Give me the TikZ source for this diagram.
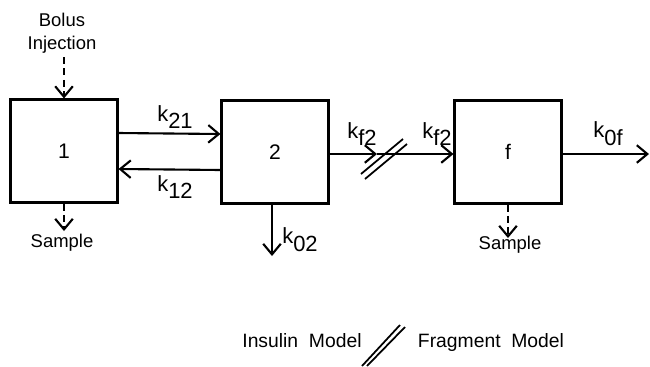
\documentclass[tikz,border=0pt]{standalone}
\usepackage{fontspec}
\setmainfont{Liberation Sans}
\usetikzlibrary{arrows.meta, positioning, calc}
\tikzset{
  comp/.style={rectangle, draw, line width=1.2pt, minimum width=2.14cm,
    minimum height=2.06cm, font=\fontsize{12}{14}\selectfont},
  flow/.style={-{Straight Barb[length=6pt, width=10pt]}, line width=1.2pt},
  dflow/.style={flow, dash pattern=on 4pt off 2.5pt},
  rate/.style={font=\fontsize{12.5}{14}\selectfont, inner sep=0pt},
  note/.style={font=\fontsize{10.5}{12}\selectfont, inner sep=0pt},
  legend/.style={font=\fontsize{11}{13}\selectfont, inner sep=0pt},
  slash/.style={line width=1pt},
}
\newcommand{\krate}[1]{k\raisebox{-4.5pt}{#1}}

\begin{document}
\begin{tikzpicture}[x=0.02cm, y=-0.02cm]
  \useasboundingbox (0,0) rectangle (650,366);

  % Compartments
  \node[comp] (c1) at (64,151) {1};
  \node[comp] (c2) at (275,152) {2};
  \node[comp] (cf) at (508,152) {f};

  % Free ends
  \coordinate (inj) at (64,57);
  \coordinate (smp1) at (64,231);
  \coordinate (smpf) at (508,238);
  \coordinate (elim) at (272,256);
  \coordinate (cut) at (377,154);
  \coordinate (out) at (649,154);

  % Texts
  \node[note] (bolus) at (62,20) {Bolus};
  \node[note] (inject) at (62,45) {Injection};
  \node[note] (samp1) at (62,243) {Sample};
  \node[note] (sampf) at (510,245) {Sample};
  \node[rate] (k21) at (175,117) {\krate{21}};
  \node[rate] (k12) at (175,187) {\krate{12}};
  \node[rate] (k02) at (300,240) {\krate{02}};
  \node[rate] (kf2a) at (362,134) {\krate{f2}};
  \node[rate] (kf2b) at (437,134) {\krate{f2}};
  \node[rate] (k0f) at (608,134) {\krate{0f}};

  % Transfers
  \draw[dflow] (inj) -- (c1.north);
  \draw[dflow] (c1.south) -- (smp1);
  \draw[dflow] (cf.south) -- (smpf);
  \draw[flow] ([yshift=0.36cm]c1.east) -- ([yshift=0.36cm]c2.west);
  \draw[flow] ([yshift=-0.36cm]c2.west) -- ([yshift=-0.36cm]c1.east);
  \draw[flow] (c2.south -| elim) -- (elim);
  \draw[flow] (c2.east |- cut) -- (cut);
  \draw[flow] (cut) -- (cf.west |- cut);
  \draw[flow] (cf.east |- out) -- (out);

  % Model break
  \draw[slash] ($(cut)+(-16,20)$) -- ($(cut)+(26,-15)$);
  \draw[slash] ($(cut)+(-12,25)$) -- ($(cut)+(30,-10)$);

  % Legend
  \node[legend] (insulin) at (302,341) {Insulin\ \ Model};
  \node[legend] (fragment) at (491,342) {Fragment\ \ Model};
  \coordinate (lbrk) at (383,345);
  \draw[slash] ($(lbrk)+(-21,21)$) -- ($(lbrk)+(17,-20)$);
  \draw[slash] ($(lbrk)+(-16,21)$) -- ($(lbrk)+(22,-18)$);
\end{tikzpicture}
\end{document}
